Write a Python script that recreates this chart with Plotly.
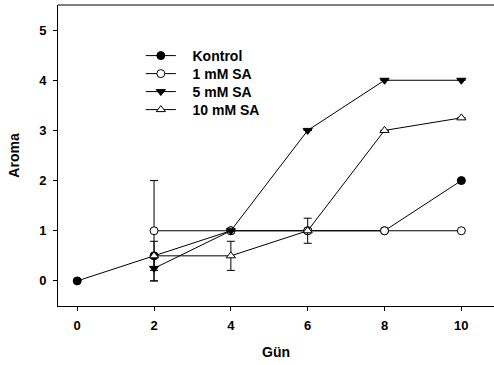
import plotly.graph_objects as go

days_kontrol = [0, 2, 4, 6, 8, 10]
kontrol = [0, 0.5, 1, 1, 1, 2]
kontrol_err = [0, 0, 0, 0, 0, 0]

days_sa = [2, 4, 6, 8, 10]
sa1 = [1, 1, 1, 1, 1]
sa1_err = [1, 0, 0, 0, 0]
sa5 = [0.25, 1, 3, 4, 4]
sa5_err = [0.25, 0, 0, 0, 0]
sa10 = [0.5, 0.5, 1, 3, 3.25]
sa10_err = [0.29, 0.29, 0.25, 0, 0]

names = ["Kontrol", "1 mM SA", "5 mM SA", "10 mM SA"]
x_ticks = [0, 2, 4, 6, 8, 10]
y_ticks = [0, 1, 2, 3, 4, 5]

series = [
    (days_kontrol, kontrol, kontrol_err, "circle", "black"),
    (days_sa, sa1, sa1_err, "circle", "white"),
    (days_sa, sa5, sa5_err, "triangle-down", "black"),
    (days_sa, sa10, sa10_err, "triangle-up", "white"),
]
legend_ids = ["legend", "legend2", "legend3", "legend4"]
legend_rows = [56, 74, 92, 110]  # pixel centres of legend rows

fig = go.Figure()
for name, lid, (xs, ys, es, sym, fill) in zip(names, legend_ids, series):
    fig.add_trace(go.Scatter(
        x=xs, y=ys, name="\u00a0\u00a0\u00a0" + name, mode="lines+markers",
        legend=lid,
        line=dict(color="black", width=1),
        marker=dict(symbol=sym, size=8, color=fill, line=dict(color="black", width=1)),
        error_y=dict(type="data", array=es, visible=True, color="black", thickness=1, width=4),
    ))

fam = "Liberation Sans, Arial, sans-serif"
tick_font = dict(family=fam, size=13, color="black", weight="bold")
title_font = dict(family=fam, size=14, color="black", weight="bold")
leg_font = dict(family=fam, size=14, color="black", weight="bold")

top, bottom = 5, 306
legends = {}
for lid, py in zip(legend_ids, legend_rows):
    legends[lid] = dict(x=0.19, y=(bottom - py) / (bottom - top), xanchor="left",
                        yanchor="middle", bgcolor="rgba(0,0,0,0)", font=leg_font)

fig.update_layout(
    width=494, height=365,
    margin=dict(l=58, r=0, t=top, b=365 - bottom),
    paper_bgcolor="white", plot_bgcolor="white",
    font=tick_font,
    showlegend=True,
    xaxis=dict(range=[-0.5, 10.85], tickvals=x_ticks, ticks="outside", ticklen=4,
               tickcolor="black", showline=True, linecolor="black", linewidth=1,
               showgrid=False, zeroline=False, tickfont=tick_font, ticklabelstandoff=3,
               title=dict(text="Gün", font=title_font, standoff=15)),
    yaxis=dict(range=[-0.5, 5.5], tickvals=y_ticks, ticks="outside", ticklen=4,
               tickcolor="black", showline=True, linecolor="black", linewidth=1,
               showgrid=False, zeroline=False, tickfont=tick_font, ticklabelstandoff=4,
               title=dict(text="Aroma", font=title_font, standoff=16)),
    shapes=[dict(type="line", xref="paper", yref="paper", x0=0, x1=1, y0=1, y1=1,
                 line=dict(color="black", width=1))],
    **legends,
)

fig.write_html("out.html")
